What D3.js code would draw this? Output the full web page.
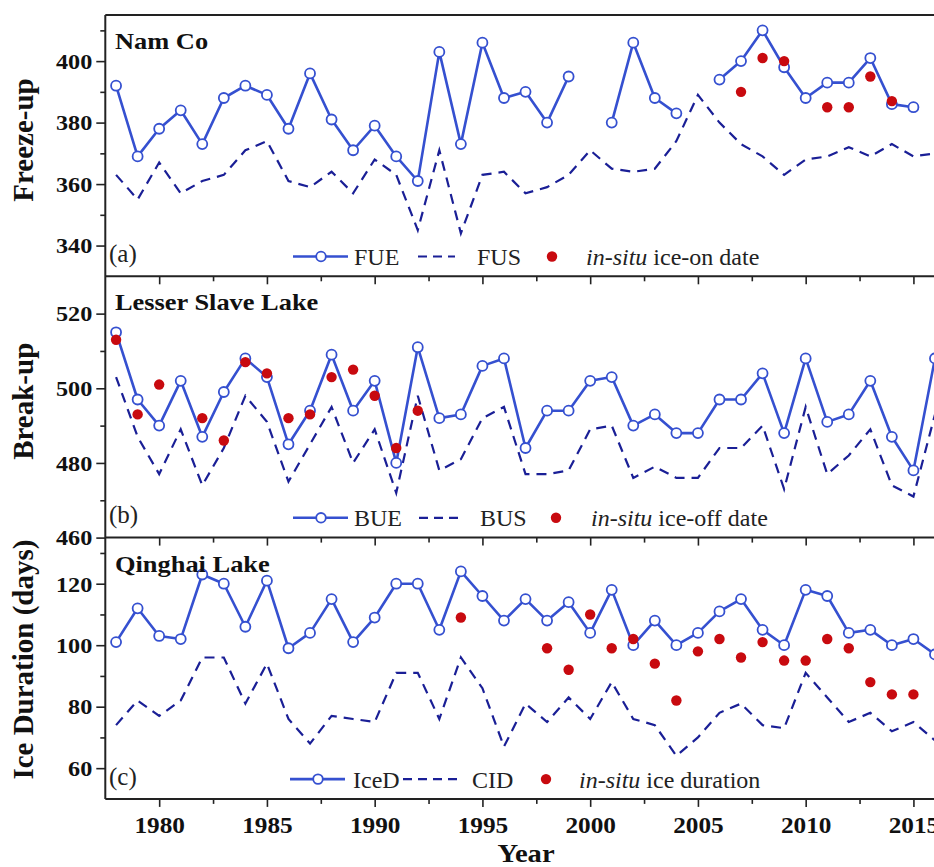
<!DOCTYPE html>
<html>
<head>
<meta charset="utf-8">
<script src="https://cdn.jsdelivr.net/npm/d3@7"></script>
<style>
body { margin: 0; background: #fff; }
svg { display: block; font-family: "Liberation Serif", "Times New Roman", serif; }
</style>
</head>
<body>
<div id="chart"></div>
<script>
// ice phenology, three lakes

const years = d3.range(1978, 2017);

// (a) Nam Co
const fue = [392, 369, 378, 384, 373, 388, 392, 389, 378, 396,
             381, 371, 379, 369, 361, 403, 373, 406, 388, 390,
             380, 395, null, 380, 406, 388, 383, null, 394, 400,
             410, 398, 388, 393, 393, 401, 386, 385, null];
const fus = [363, 355, 367, 357, 361, 363, 371, 374, 361, 359,
             364, 357, 368, 363, 345, 371, 344, 363, 364, 357,
             359, 363, 371, 365, 364, 365, 374, 389, 380, 373,
             369, 363, 368, 369, 372, 369, 373, 369, 370];
const iceOnYears = [2007, 2008, 2009, 2011, 2012, 2013, 2014];
const iceOn = [390, 401, 400, 385, 385, 395, 387];

// (b) Lesser Slave Lake
const bue = [515, 497, 490, 502, 487, 499, 508, 503, 485, 494,
             509, 494, 502, 480, 511, 492, 493, 506, 508, 484,
             494, 494, 502, 503, 490, 493, 488, 488, 497, 497,
             504, 488, 508, 491, 493, 502, 487, 478, 508];
const bus = [503, 487, 477, 489, 474, 484, 498, 491, 475, 485,
             495, 480, 489, 472, 498, 478, 481, 492, 495, 477,
             477, 478, 489, 490, 476, 479, 476, 476, 484, 484,
             490, 473, 495, 477, 482, 489, 474, 471, 493];
const iceOffYears = [1978, 1979, 1980, 1982, 1983, 1984, 1985, 1986, 1987, 1988, 1989, 1990, 1991, 1992];
const iceOff = [513, 493, 501, 492, 486, 507, 504, 492, 493, 503, 505, 498, 484, 494];

// (c) Qinghai Lake
const iced = [101, 112, 103, 102, 123, 120, 106, 121, 99, 104,
              115, 101, 109, 120, 120, 105, 124, 116, 108, 115,
              108, 114, 104, 118, 100, 108, 100, 104, 111, 115,
              105, 100, 118, 116, 104, 105, 100, 102, 97];
const cid = [74, 82, 77, 82, 96, 96, 81, 94, 76, 68,
             77, 76, 75, 91, 91, 76, 96, 86, 67, 81,
             75, 83, 76, 88, 76, 74, 64, 70, 78, 81,
             74, 73, 91, 83, 75, 78, 72, 75, 69];
const durYears = [1994, 1998, 1999, 2000, 2001, 2002, 2003, 2004, 2005, 2006, 2007, 2008, 2009, 2010, 2011, 2012, 2013, 2014, 2015];
const durObs = [109, 99, 92, 110, 99, 102, 94, 82, 98, 102, 96, 101, 95, 95, 102, 99, 88, 84, 84];

const xMajor = [1980, 1985, 1990, 1995, 2000, 2005, 2010, 2015];
const xMinor = [1982.5, 1987.5, 1992.5, 1997.5, 2002.5, 2007.5, 2012.5];

const panels = [
    { title: "Nam Co", tag: "(a)", ylabel: "Freeze-up", domain: [330, 415],
      major: [340, 360, 380, 400], minor: [350, 370, 390, 410],
      solid: fue, dashed: fus, obsYears: iceOnYears, obs: iceOn,
      names: ["FUE", "FUS", " ice-on date"],
      legendX: [293, 354, 418, 455, 477, 552, 586] },
    { title: "Lesser Slave Lake", tag: "(b)", ylabel: "Break-up", domain: [460, 530],
      major: [460, 480, 500, 520], minor: [470, 490, 510],
      solid: bue, dashed: bus, obsYears: iceOffYears, obs: iceOff,
      names: ["BUE", "BUS", " ice-off date"],
      legendX: [293, 354, 419, 462, 480, 556, 591] },
    { title: "Qinghai Lake", tag: "(c)", ylabel: "Ice Duration (days)", domain: [50, 135],
      major: [60, 80, 100, 120], minor: [70, 90, 110, 130],
      solid: iced, dashed: cid, obsYears: durYears, obs: durObs,
      names: ["IceD", "CID", " ice duration"],
      legendX: [290, 353, 403, 457, 472, 546, 579] }
];

const width = 934;
const height = 867;
const plotLeft = 105.3;
const plotTop = 15;
const panelH = 261.3;
const sx = 1.1; // text in the source is a little wider than tall
const serif = "'Liberation Serif', 'Times New Roman', serif";

const solidColor = "#3550d0";
const dashColor = "#1a1f96";
const redColor = "#c80a0f";
const axisColor = "#222";

const svg = d3.select("#chart")
    .append("svg")
    .attr("width", width)
    .attr("height", height);

const xScale = d3.scaleLinear()
    .domain([1977.5, 2016.5])
    .range([plotLeft, plotLeft + 39 * 21.55]);

const xRight = xScale.range()[1];

panels.forEach(function(p, i){
    const y0 = plotTop + i * panelH;
    const y1 = y0 + panelH;
    const yScale = d3.scaleLinear().domain(p.domain).range([y1, y0]);

    const g = svg.append("g");

    const line = d3.line()
        .defined(function(d){ return d[1] != null; })
        .x(function(d){ return xScale(d[0]); })
        .y(function(d){ return yScale(d[1]); });

    // dashed series
    g.append("path")
        .datum(years.map(function(yr, j){ return [yr, p.dashed[j]]; }))
        .attr("fill", "none")
        .attr("stroke", dashColor)
        .attr("stroke-width", 2.2)
        .attr("stroke-dasharray", "10,7")
        .attr("d", line);

    // solid series with open markers
    const solidData = years.map(function(yr, j){ return [yr, p.solid[j]]; });
    g.append("path")
        .datum(solidData)
        .attr("fill", "none")
        .attr("stroke", solidColor)
        .attr("stroke-width", 2.6)
        .attr("stroke-linejoin", "round")
        .attr("d", line);

    g.selectAll("circle.open")
        .data(solidData.filter(function(d){ return d[1] != null; }))
        .enter()
        .append("circle")
        .attr("class", "open")
        .attr("cx", function(d){ return xScale(d[0]); })
        .attr("cy", function(d){ return yScale(d[1]); })
        .attr("r", 5)
        .attr("fill", "#fff")
        .attr("stroke", solidColor)
        .attr("stroke-width", 1.8);

    // in-situ dots
    g.selectAll("circle.obs")
        .data(p.obsYears.map(function(yr, j){ return [yr, p.obs[j]]; }))
        .enter()
        .append("circle")
        .attr("class", "obs")
        .attr("cx", function(d){ return xScale(d[0]); })
        .attr("cy", function(d){ return yScale(d[1]); })
        .attr("r", 5.2)
        .attr("fill", redColor);

    // y axis, major + minor
    const yMaj = g.append("g")
        .attr("transform", `translate(${plotLeft}, 0)`)
        .call(d3.axisLeft(yScale).tickValues(p.major).tickSize(9).tickSizeOuter(0));
    const yMin = g.append("g")
        .attr("transform", `translate(${plotLeft}, 0)`)
        .call(d3.axisLeft(yScale).tickValues(p.minor).tickSize(5).tickFormat("").tickSizeOuter(0));

    // x ticks along bottom of each panel
    const xMaj = g.append("g")
        .attr("transform", `translate(0, ${y1})`)
        .call(d3.axisBottom(xScale).tickValues(xMajor).tickSize(8).tickSizeOuter(0)
            .tickFormat(i === 2 ? d3.format("d") : ""));
    const xMin = g.append("g")
        .attr("transform", `translate(0, ${y1})`)
        .call(d3.axisBottom(xScale).tickValues(xMinor).tickSize(5).tickFormat("").tickSizeOuter(0));

    [yMaj, yMin, xMaj, xMin].forEach(function(a){
        a.attr("font-family", serif).attr("font-size", null);
        a.select(".domain").remove();
        a.selectAll("line").attr("stroke", axisColor).attr("stroke-width", 1.6);
    });

    yMaj.selectAll("text")
        .attr("x", null)
        .attr("dy", null)
        .attr("transform", `translate(-13, 7.3) scale(${sx},1)`)
        .attr("fill", "#111")
        .style("font-size", "22px")
        .style("font-weight", "bold");

    xMaj.selectAll("text")
        .attr("y", null)
        .attr("dy", null)
        .attr("transform", `translate(0, 34) scale(${sx},1)`)
        .attr("fill", "#111")
        .style("font-size", "23px")
        .style("font-weight", "bold");

    // frame lines
    g.append("line")
        .attr("x1", plotLeft).attr("x2", xRight)
        .attr("y1", y1).attr("y2", y1)
        .attr("stroke", axisColor).attr("stroke-width", 2);
    if (i === 0) {
        g.append("line")
            .attr("x1", plotLeft).attr("x2", xRight)
            .attr("y1", y0).attr("y2", y0)
            .attr("stroke", axisColor).attr("stroke-width", 2);
    }

    // titles
    g.append("text")
        .attr("transform", `translate(115, ${y0 + 34}) scale(${sx},1)`)
        .style("font-size", "24px")
        .style("font-weight", "bold")
        .attr("fill", "#111")
        .text(p.title);

    g.append("text")
        .attr("transform", `translate(109, ${y0 + 247})`)
        .style("font-size", "25px")
        .attr("fill", "#222")
        .text(p.tag);

    g.append("text")
        .attr("transform", `translate(33, ${y0 + 125 + (i === 2 ? -3 : 0)}) rotate(-90)`)
        .attr("text-anchor", "middle")
        .style("font-size", "29px")
        .style("font-weight", "bold")
        .attr("fill", "#111")
        .text(p.ylabel);

    // legend
    const ly = y0 + 241.5;
    const L = p.legendX;
    const leg = g.append("g");
    leg.append("line")
        .attr("x1", L[0]).attr("x2", L[0] + 55)
        .attr("y1", ly).attr("y2", ly)
        .attr("stroke", solidColor).attr("stroke-width", 2.6);
    leg.append("circle")
        .attr("cx", L[0] + 28).attr("cy", ly).attr("r", 4.8)
        .attr("fill", "#fff").attr("stroke", solidColor).attr("stroke-width", 1.8);
    leg.append("text")
        .attr("x", L[1]).attr("y", ly + 8.5)
        .style("font-size", "24px").attr("fill", "#222")
        .text(p.names[0]);
    leg.append("line")
        .attr("x1", L[2]).attr("x2", L[3])
        .attr("y1", ly).attr("y2", ly)
        .attr("stroke", dashColor).attr("stroke-width", 2.2)
        .attr("stroke-dasharray", "9,6");
    leg.append("text")
        .attr("x", L[4]).attr("y", ly + 8.5)
        .style("font-size", "24px").attr("fill", "#222")
        .text(p.names[1]);
    leg.append("circle")
        .attr("cx", L[5]).attr("cy", ly).attr("r", 5.2)
        .attr("fill", redColor);
    const t = leg.append("text")
        .attr("x", L[6]).attr("y", ly + 8.5)
        .style("font-size", "24px").attr("fill", "#222");
    t.append("tspan").style("font-style", "italic").text("in-situ");
    t.append("tspan").text(p.names[2]);
});

// left frame line
svg.append("line")
    .attr("x1", plotLeft).attr("x2", plotLeft)
    .attr("y1", plotTop).attr("y2", plotTop + 3 * panelH)
    .attr("stroke", axisColor).attr("stroke-width", 2);

// x title
svg.append("text")
    .attr("transform", `translate(526, 862) scale(${sx},1)`)
    .attr("text-anchor", "middle")
    .style("font-size", "26px")
    .style("font-weight", "bold")
    .attr("fill", "#111")
    .text("Year");
</script>
</body>
</html>
